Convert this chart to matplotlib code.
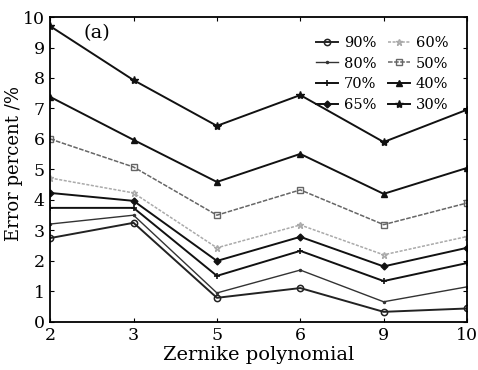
import matplotlib
matplotlib.use('Agg')
import matplotlib.pyplot as plt

orders = ['2', '3', '5', '6', '9', '10']

err_90 = [2.75, 3.25, 0.79, 1.11, 0.33, 0.44]
err_80 = [3.21, 3.50, 0.95, 1.70, 0.66, 1.15]
err_70 = [3.74, 3.74, 1.51, 2.33, 1.34, 1.93]
err_65 = [4.23, 3.97, 2.00, 2.79, 1.82, 2.43]
err_60 = [4.72, 4.23, 2.43, 3.18, 2.20, 2.80]
err_50 = [6.00, 5.08, 3.50, 4.33, 3.19, 3.90]
err_40 = [7.38, 5.97, 4.59, 5.51, 4.20, 5.05]
err_30 = [9.70, 7.93, 6.43, 7.44, 5.90, 6.96]

plt.rcParams['font.family'] = ['DejaVu Serif']
plt.rcParams['mathtext.fontset'] = 'dejavuserif'

fig = plt.figure(figsize=(4.78, 3.70), dpi=100)
ax = fig.add_axes([0.105, 0.130, 0.872, 0.824])

x = list(range(len(orders)))

ax.plot(x, err_90, color='#222222', lw=1.4, marker='o', ms=4.5, mfc='none', mew=1.1, label='90%')
ax.plot(x, err_80, color='#333333', lw=1.0, marker='.', ms=3, label='80%')
ax.plot(x, err_70, color='#111111', lw=1.4, marker='+', ms=5, mew=1.2, label='70%')
ax.plot(x, err_65, color='#111111', lw=1.4, marker='D', ms=3.5, label='65%')
ax.plot(x, err_60, color='#aaaaaa', lw=1.1, ls=(0, (2, 1)), marker='*', ms=5, mfc='none', label='60%')
ax.plot(x, err_50, color='#666666', lw=1.1, ls=(0, (3, 1)), marker='s', ms=4, mfc='none', label='50%')
ax.plot(x, err_40, color='#111111', lw=1.4, marker='^', ms=4.5, label='40%')
ax.plot(x, err_30, color='#111111', lw=1.4, marker='*', ms=6, label='30%')

ax.set_xlim(0, len(orders) - 1)
ax.set_ylim(0, 10)
ax.set_xticks(x)
ax.set_xticklabels(orders)
ax.set_yticks(range(0, 11))
ax.tick_params(direction='in', top=True, right=True, labelsize=12.5, length=3, pad=4)
for s in ax.spines.values():
    s.set_linewidth(1.3)

ax.set_xlabel('Zernike polynomial', fontsize=14, labelpad=1)
ax.set_ylabel('Error percent /%', fontsize=13)
ax.yaxis.set_label_coords(-0.066, 0.52)
ax.text(0.56, 9.47, '(a)', fontsize=14, ha='center', va='center')

ax.legend(ncol=2, loc='upper right', frameon=False, fontsize=10.5,
          handlelength=1.5, handletextpad=0.4, columnspacing=0.8,
          labelspacing=0.45, borderaxespad=0.9)

fig.savefig('out.png', dpi=100)
